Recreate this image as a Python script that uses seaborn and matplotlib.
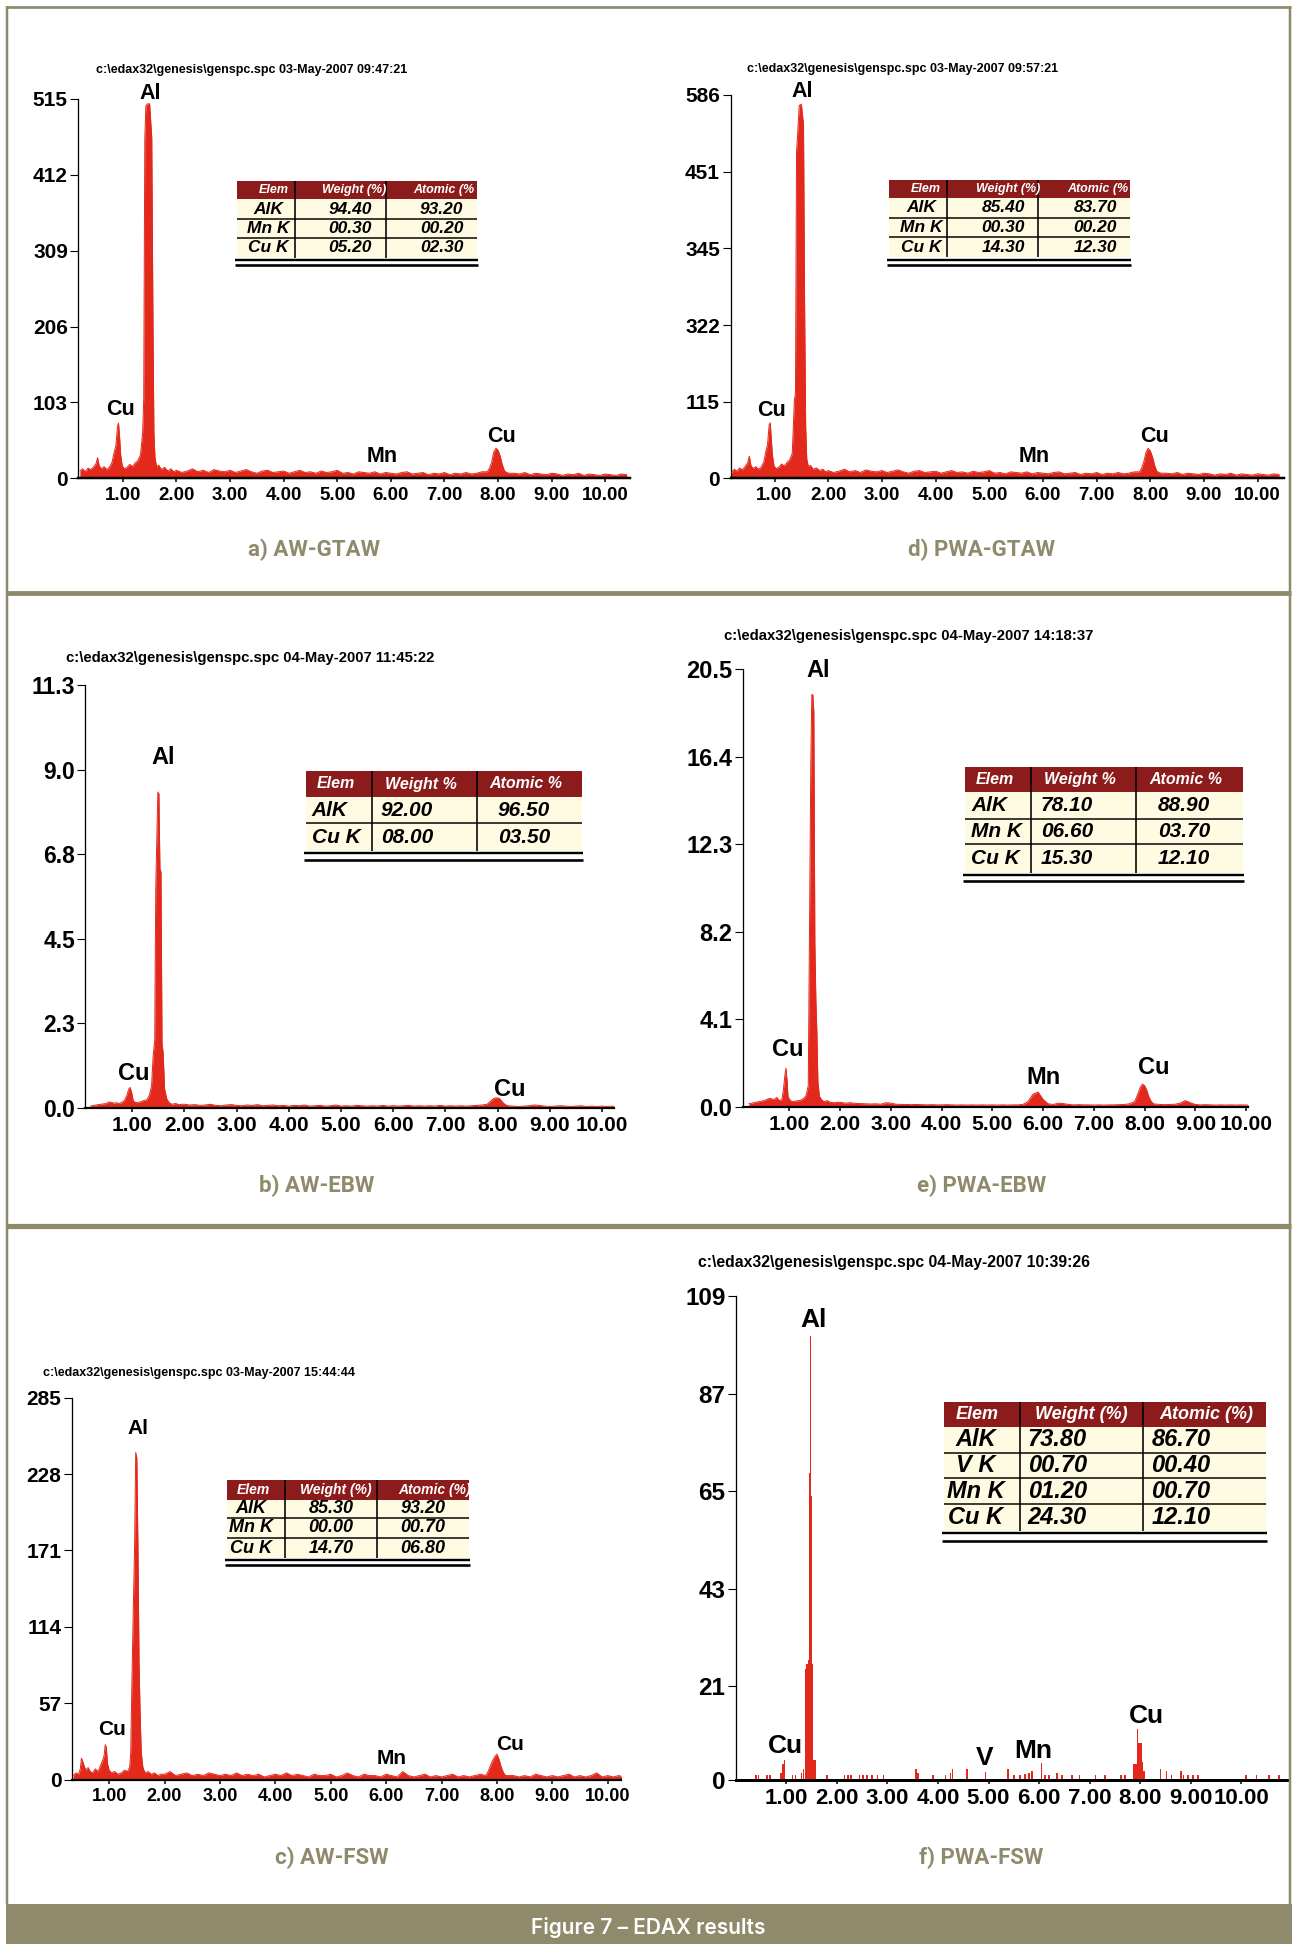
import matplotlib
matplotlib.use("Agg")
import matplotlib.pyplot as plt
import seaborn as sns
from matplotlib.patches import Rectangle
from matplotlib.lines import Line2D

# ---------------------------------------------------------------- data
X_TICKS = [1, 2, 3, 4, 5, 6, 7, 8, 9, 10]
X_TICK_LABELS = ["1.00", "2.00", "3.00", "4.00", "5.00", "6.00", "7.00", "8.00", "9.00", "10.00"]

# shared energy channels (keV) of the background / Cu K regions
BG_E1 = [2.0, 2.1, 2.2, 2.3, 2.4, 2.5, 2.6, 2.7, 2.8, 2.9, 3.0, 3.1, 3.2, 3.3, 3.4, 3.5, 3.6, 3.7, 3.8, 3.9,
         4.0, 4.1, 4.2, 4.3, 4.4, 4.5, 4.6, 4.7, 4.8, 4.9, 5.0, 5.1, 5.2, 5.3, 5.4, 5.5, 5.6, 5.7, 5.8, 5.9,
         6.0, 6.1, 6.2, 6.3, 6.4, 6.5, 6.6, 6.7, 6.8, 6.9, 7.0, 7.1, 7.2, 7.3, 7.4, 7.5, 7.6, 7.7]
CUK_E = [7.80, 7.84, 7.88, 7.92, 7.96, 8.00, 8.04, 8.08, 8.12, 8.16, 8.20]
BG_E2 = [8.3, 8.4, 8.5, 8.6, 8.7, 8.8, 8.9, 9.0, 9.1, 9.2, 9.3, 9.4, 9.5, 9.6, 9.7, 9.8, 9.9, 10.0, 10.1,
         10.2, 10.3, 10.4]

# ---- a) AW-GTAW
GTAW_LOW_E = [0.20, 0.25, 0.30, 0.35, 0.40, 0.45, 0.50, 0.53, 0.56, 0.60, 0.65, 0.70, 0.75, 0.80, 0.84,
              0.87, 0.90, 0.92, 0.94, 0.96, 0.99, 1.03, 1.08, 1.13, 1.18, 1.23, 1.28, 1.33, 1.37, 1.39,
              1.41, 1.43, 1.46, 1.50, 1.54, 1.56, 1.58, 1.60, 1.63, 1.67, 1.72, 1.78, 1.84, 1.90, 1.95]
A_LOW_C = [10, 13, 9, 14, 12, 15, 20, 28, 17, 13, 16, 12, 15, 22, 36, 44, 70, 75, 56, 32, 17, 13, 15, 19,
           16, 21, 24, 32, 62, 108, 460, 505, 508, 508, 462, 236, 62, 28, 16, 18, 12, 15, 10, 13, 9]
A_BG1_C = [11, 8, 10, 13, 9, 11, 8, 12, 10, 9, 11, 8, 10, 12, 9, 7, 10, 11, 8, 9, 10, 7, 9, 11, 8, 9, 7,
           10, 8, 9, 11, 7, 8, 6, 9, 8, 7, 9, 6, 8, 7, 6, 8, 9, 6, 7, 8, 5, 7, 6, 8, 5, 7, 6, 8, 6, 7, 9]
A_CUK_C = [9, 14, 22, 36, 41, 38, 30, 18, 10, 8, 7]
A_BG2_C = [7, 6, 8, 5, 7, 6, 5, 7, 6, 4, 6, 5, 7, 4, 6, 5, 4, 6, 5, 4, 6, 5]
A_YTICK_LABELS = ["0", "103", "206", "309", "412", "515"]
A_HEADER = r"c:\edax32\genesis\genspc.spc 03-May-2007 09:47:21"
A_TABLE_COLS = ["Elem", "Weight (%)", "Atomic (%"]
A_TABLE_ROWS = [["AlK", "94.40", "93.20"], ["Mn K", "00.30", "00.20"], ["Cu K", "05.20", "02.30"]]

# ---- d) PWA-GTAW
D_LOW_C = [9, 14, 11, 16, 13, 18, 24, 34, 20, 15, 18, 14, 17, 25, 42, 52, 82, 85, 60, 36, 19, 15, 17, 22,
           19, 24, 28, 38, 120, 130, 500, 525, 570, 572, 540, 266, 80, 30, 18, 20, 14, 16, 12, 14, 10]
D_BG1_C = [12, 9, 11, 14, 10, 12, 9, 13, 11, 10, 12, 9, 11, 13, 10, 8, 11, 12, 9, 10, 11, 8, 10, 12, 9,
           10, 8, 11, 9, 10, 12, 8, 9, 7, 10, 9, 8, 10, 7, 9, 8, 7, 9, 10, 7, 8, 9, 6, 8, 7, 9, 6, 8, 7, 9,
           7, 8, 10]
D_CUK_C = [10, 16, 26, 40, 46, 42, 33, 20, 11, 9, 8]
D_BG2_C = [8, 7, 9, 6, 8, 7, 6, 8, 7, 5, 7, 6, 8, 5, 7, 6, 5, 7, 6, 5, 7, 6]
D_YTICK_LABELS = ["0", "115", "322", "345", "451", "586"]
D_HEADER = r"c:\edax32\genesis\genspc.spc 03-May-2007 09:57:21"
D_TABLE_COLS = ["Elem", "Weight (%)", "Atomic (%"]
D_TABLE_ROWS = [["AlK", "85.40", "83.70"], ["Mn K", "00.30", "00.20"], ["Cu K", "14.30", "12.30"]]

# ---- b) AW-EBW
B_LOW_E = [0.20, 0.30, 0.40, 0.50, 0.55, 0.60, 0.65, 0.70, 0.75, 0.80, 0.85, 0.90, 0.93, 0.96, 0.99,
           1.02, 1.08, 1.15, 1.22, 1.28, 1.33, 1.37, 1.40, 1.43, 1.45, 1.47, 1.49, 1.51, 1.53, 1.55,
           1.57, 1.59, 1.62, 1.66, 1.70, 1.76, 1.83, 1.90, 1.96]
B_LOW_C = [0.05, 0.08, 0.10, 0.12, 0.16, 0.15, 0.13, 0.14, 0.12, 0.15, 0.20, 0.35, 0.50, 0.55, 0.40,
           0.18, 0.14, 0.16, 0.20, 0.22, 0.35, 0.60, 1.40, 1.80, 5.90, 7.20, 8.44, 8.40, 6.40, 6.30,
           1.70, 1.50, 0.50, 0.25, 0.15, 0.10, 0.12, 0.09, 0.10]
B_BG1_C = [0.10, 0.08, 0.09, 0.07, 0.08, 0.10, 0.07, 0.06, 0.08, 0.09, 0.07, 0.06, 0.08, 0.07, 0.09,
           0.06, 0.07, 0.08, 0.06, 0.07, 0.05, 0.07, 0.06, 0.08, 0.05, 0.06, 0.07, 0.05, 0.06, 0.08,
           0.05, 0.06, 0.05, 0.07, 0.06, 0.05, 0.06, 0.05, 0.07, 0.05, 0.06, 0.05, 0.06, 0.07, 0.05,
           0.06, 0.05, 0.06, 0.05, 0.07, 0.05, 0.06, 0.05, 0.06, 0.05, 0.06, 0.07, 0.08]
B_CUK_C = [0.10, 0.15, 0.20, 0.25, 0.27, 0.27, 0.25, 0.18, 0.12, 0.08, 0.06]
B_BG2_C = [0.05, 0.04, 0.05, 0.06, 0.08, 0.07, 0.05, 0.04, 0.05, 0.06, 0.05, 0.04, 0.05, 0.06, 0.04,
           0.05, 0.04, 0.05, 0.04, 0.05, 0.04, 0.05]
B_YTICK_LABELS = ["0.0", "2.3", "4.5", "6.8", "9.0", "11.3"]
B_HEADER = r"c:\edax32\genesis\genspc.spc 04-May-2007 11:45:22"
B_TABLE_COLS = ["Elem", "Weight %", "Atomic %"]
B_TABLE_ROWS = [["AlK", "92.00", "96.50"], ["Cu K", "08.00", "03.50"]]

# ---- e) PWA-EBW
E_LOW_E = [0.20, 0.30, 0.40, 0.50, 0.60, 0.65, 0.70, 0.75, 0.80, 0.85, 0.88, 0.91, 0.93, 0.95, 0.97,
           1.00, 1.05, 1.12, 1.20, 1.28, 1.33, 1.37, 1.40, 1.42, 1.44, 1.46, 1.48, 1.50, 1.52, 1.54,
           1.56, 1.59, 1.63, 1.68, 1.74, 1.80, 1.88, 1.95]
E_LOW_C = [0.15, 0.20, 0.25, 0.30, 0.40, 0.38, 0.35, 0.45, 0.30, 0.35, 0.80, 1.50, 1.82, 1.30, 0.50,
           0.35, 0.25, 0.28, 0.30, 0.40, 0.55, 1.00, 9.90, 16.0, 19.3, 19.3, 18.5, 7.70, 5.00, 3.50,
           1.20, 0.50, 0.35, 0.25, 0.30, 0.22, 0.20, 0.22]
E_BG1_C = [0.22, 0.18, 0.20, 0.17, 0.16, 0.15, 0.14, 0.15, 0.13, 0.20, 0.18, 0.13, 0.12, 0.12, 0.11,
           0.12, 0.11, 0.10, 0.11, 0.10, 0.10, 0.11, 0.10, 0.09, 0.10, 0.09, 0.10, 0.09, 0.10, 0.09,
           0.10, 0.09, 0.10, 0.09, 0.10, 0.10, 0.12, 0.25, 0.60, 0.70, 0.35, 0.15, 0.12, 0.18, 0.16,
           0.12, 0.10, 0.11, 0.10, 0.10, 0.09, 0.10, 0.09, 0.10, 0.10, 0.11, 0.12, 0.15]
E_CUK_C = [0.25, 0.45, 0.70, 0.95, 1.07, 1.00, 0.80, 0.50, 0.30, 0.18, 0.14]
E_BG2_C = [0.12, 0.11, 0.12, 0.13, 0.18, 0.30, 0.20, 0.12, 0.10, 0.11, 0.10, 0.09, 0.10, 0.09, 0.10,
           0.09, 0.10, 0.09, 0.10, 0.09, 0.08, 0.08]
E_YTICK_LABELS = ["0.0", "4.1", "8.2", "12.3", "16.4", "20.5"]
E_HEADER = r"c:\edax32\genesis\genspc.spc 04-May-2007 14:18:37"
E_TABLE_COLS = ["Elem", "Weight %", "Atomic %"]
E_TABLE_ROWS = [["AlK", "78.10", "88.90"], ["Mn K", "06.60", "03.70"], ["Cu K", "15.30", "12.10"]]

# ---- c) AW-FSW
C_LOW_E = [0.35, 0.40, 0.45, 0.48, 0.50, 0.52, 0.55, 0.58, 0.62, 0.66, 0.70, 0.75, 0.80, 0.84, 0.88,
           0.91, 0.93, 0.95, 0.97, 1.00, 1.04, 1.10, 1.16, 1.22, 1.28, 1.33, 1.37, 1.39, 1.41, 1.43,
           1.46, 1.48, 1.50, 1.52, 1.54, 1.56, 1.58, 1.61, 1.65, 1.70, 1.76, 1.82, 1.88, 1.94]
C_LOW_C = [3, 5, 4, 8, 16, 14, 10, 7, 9, 6, 5, 8, 6, 10, 14, 18, 26, 24, 12, 7, 5, 6, 4, 5, 7, 6, 9, 20,
           70, 114, 175, 244, 240, 174, 87, 48, 20, 9, 5, 6, 4, 5, 3, 4]
C_BG1_C = [4, 6, 3, 4, 5, 3, 4, 3, 5, 4, 3, 4, 3, 5, 3, 4, 3, 4, 2, 3, 4, 3, 5, 3, 4, 3, 2, 4, 3, 3, 4,
           2, 3, 5, 3, 2, 4, 3, 3, 2, 4, 3, 2, 6, 3, 2, 3, 4, 2, 3, 2, 3, 4, 2, 3, 2, 3, 4]
C_CUK_C = [3, 6, 10, 14, 17, 19, 15, 9, 5, 3, 3]
C_BG2_C = [3, 2, 3, 2, 4, 3, 2, 3, 2, 3, 4, 2, 3, 2, 3, 5, 2, 3, 2, 3, 2, 2]
C_YTICK_LABELS = ["0", "57", "114", "171", "228", "285"]
C_HEADER = r"c:\edax32\genesis\genspc.spc 03-May-2007 15:44:44"
C_TABLE_COLS = ["Elem", "Weight (%)", "Atomic (%)"]
C_TABLE_ROWS = [["AlK", "85.30", "93.20"], ["Mn K", "00.00", "00.70"], ["Cu K", "14.70", "06.80"]]

# ---- f) PWA-FSW (sparse channel counts)
F_E = [0.40, 0.45, 0.62, 0.68, 0.90, 0.93, 0.96, 1.12, 1.18, 1.30, 1.34, 1.38, 1.41, 1.44, 1.46, 1.48,
       1.50, 1.52, 1.55, 1.58, 1.80, 2.15, 2.22, 2.28, 2.45, 2.52, 2.60, 2.70, 2.80, 2.92, 3.57, 3.61,
       3.90, 4.15, 4.25, 4.29, 4.58, 4.94, 5.38, 5.50, 5.62, 5.72, 5.80, 5.86, 6.05, 6.12, 6.20, 6.36,
       6.45, 6.65, 6.80, 7.12, 7.30, 7.62, 7.70, 7.88, 7.92, 7.95, 7.98, 8.02, 8.05, 8.08, 8.40, 8.52,
       8.62, 8.81, 8.86, 8.95, 9.05, 9.15, 10.10, 10.30, 10.55, 10.75]
F_C = [1, 1, 1, 1, 1.5, 3.5, 4.5, 1, 1, 1.5, 2.5, 25, 26, 27, 69, 100, 64, 26, 4.5, 4.5, 1, 1, 1, 1, 1,
       1, 1, 1, 1, 1, 2.3, 1.5, 1, 1, 1.5, 2.5, 2.3, 1.7, 2.5, 1, 1, 1.2, 1.5, 2, 3.8, 1, 1, 1.5, 1, 1,
       1, 1, 1, 1, 1, 3.5, 3.5, 11.3, 8.2, 8.2, 4, 2, 2.5, 2, 1, 2, 1, 1, 1, 1, 1, 1, 1, 1]
F_YTICKS = [0, 21, 43, 65, 87, 109]
F_YTICK_LABELS = ["0", "21", "43", "65", "87", "109"]
F_HEADER = r"c:\edax32\genesis\genspc.spc 04-May-2007 10:39:26"
F_TABLE_COLS = ["Elem", "Weight (%)", "Atomic (%)"]
F_TABLE_ROWS = [["AlK", "73.80", "86.70"], ["V K", "00.70", "00.40"], ["Mn K", "01.20", "00.70"],
                ["Cu K", "24.30", "12.10"]]

CAPTIONS = ["a) AW-GTAW", "d) PWA-GTAW", "b) AW-EBW", "e) PWA-EBW", "c) AW-FSW", "f) PWA-FSW"]
FIG_TITLE = "Figure 7 \u2013 EDAX results"

# ---------------------------------------------------------------- styling
W, H, DPI = 1292, 1944, 100
RED = "#e3281c"
OLIVE = "#8e8a6b"
HDR_RED = "#8c1c1c"
CELL = "#fffbe3"

sns.set_theme(style="white")
plt.rcParams["font.family"] = ["Liberation Sans", "DejaVu Sans"]

fig = plt.figure(figsize=(W / DPI, H / DPI), dpi=DPI)
fig.patch.set_facecolor("white")


def px_text(x, y, s, size, color="black", weight="bold", style="normal", ha="center", va="center",
            family=None):
    kw = {}
    if family is not None:
        kw["family"] = family
    fig.text(x / W, 1 - y / H, s, fontsize=size, color=color, fontweight=weight, fontstyle=style,
             ha=ha, va=va, **kw)


def px_line(x0, y0, x1, y1, lw_px, color):
    fig.add_artist(Line2D([x0 / W, x1 / W], [1 - y0 / H, 1 - y1 / H], transform=fig.transFigure,
                          color=color, lw=lw_px * 0.72, solid_capstyle="butt"))


def px_rect(x0, y0, x1, y1, color):
    fig.add_artist(Rectangle((x0 / W, 1 - y1 / H), (x1 - x0) / W, (y1 - y0) / H,
                             transform=fig.transFigure, facecolor=color, edgecolor="none", lw=0))


def ticks_even(ymax):
    return [ymax * i / 5 for i in range(6)]


def join(*parts):
    out = []
    for p in parts:
        out += list(p)
    return out


PANELS = [
    dict(box=(78.3, 630, 98.7, 478.4), xlim=(0.17, 10.46), ymax=515, yticks=ticks_even(515),
         ylabels=A_YTICK_LABELS, E=join(GTAW_LOW_E, BG_E1, CUK_E, BG_E2),
         C=join(A_LOW_C, A_BG1_C, A_CUK_C, A_BG2_C), ysize=15, xsize=13.5, xlw=2.5,
         header=A_HEADER, hpos=(95.6, 70), hsize=9,
         peaks=[("Al", 150.4, 93.8), ("Cu", 120.3, 409.5), ("Mn", 382.4, 456), ("Cu", 501.9, 437)],
         psize=15.5, caption=(CAPTIONS[0], 314, 550),
         table=dict(x=(237, 477), cols=(294.6, 386), ys=[181, 199, 219, 238, 258], dbl=(260, 264.5),
                    hdr=A_TABLE_COLS, rows=A_TABLE_ROWS, hsize=9, bsize=12.5, hoff=[8, 14, 12],
                    align=[("center", 2), ("center", 10), ("center", 10)])),
    dict(box=(730.5, 1284, 95, 478.4), xlim=(0.18, 10.49), ymax=586, yticks=ticks_even(586),
         ylabels=D_YTICK_LABELS, E=join(GTAW_LOW_E, BG_E1, CUK_E, BG_E2),
         C=join(D_LOW_C, D_BG1_C, D_CUK_C, D_BG2_C), ysize=15, xsize=13.5, xlw=2.5,
         header=D_HEADER, hpos=(747, 69), hsize=9,
         peaks=[("Al", 802.6, 91.8), ("Cu", 771.7, 410), ("Mn", 1034, 457), ("Cu", 1154.9, 437)],
         psize=15.5, caption=(CAPTIONS[1], 981.8, 550),
         table=dict(x=(889, 1130), cols=(946.8, 1038), ys=[180, 198, 218, 237, 257], dbl=(260, 264.5),
                    hdr=D_TABLE_COLS, rows=D_TABLE_ROWS, hsize=9, bsize=12.5, hoff=[8, 16, 14],
                    align=[("center", 3), ("center", 11), ("center", 11)])),
    dict(box=(85.3, 614, 685, 1108), xlim=(0.1, 10.23), ymax=11.3, yticks=ticks_even(11.3),
         ylabels=B_YTICK_LABELS, E=join(B_LOW_E, BG_E1, CUK_E, BG_E2),
         C=join(B_LOW_C, B_BG1_C, B_CUK_C, B_BG2_C), ysize=16.5, xsize=15, xlw=2.2,
         header=B_HEADER, hpos=(66, 658), hsize=10.7,
         peaks=[("Al", 162.8, 757.9), ("Cu", 134, 1073), ("Cu", 510, 1089)],
         psize=17, caption=(CAPTIONS[2], 316.4, 1185.8),
         table=dict(x=(305.7, 582), cols=(372, 477), ys=[771, 797, 823, 851], dbl=(853, 859.5),
                    hdr=B_TABLE_COLS, rows=B_TABLE_ROWS, hsize=11.5, bsize=15, hoff=[-3, -4, -4],
                    align=[("left", 6), ("left", 9), ("left", 21)])),
    dict(box=(742.8, 1247.6, 669, 1107), xlim=(0.08, 10.03), ymax=20.5, yticks=ticks_even(20.5),
         ylabels=E_YTICK_LABELS, E=join(E_LOW_E, BG_E1, CUK_E, BG_E2),
         C=join(E_LOW_C, E_BG1_C, E_CUK_C, E_BG2_C), ysize=17, xsize=15.2, xlw=2.2,
         header=E_HEADER, hpos=(724, 636), hsize=10.7,
         peaks=[("Al", 818.2, 670.3), ("Cu", 788.2, 1050), ("Mn", 1043.6, 1077.3), ("Cu", 1153.6, 1068)],
         psize=17, caption=(CAPTIONS[3], 981.8, 1185.8),
         table=dict(x=(965, 1243), cols=(1031, 1136), ys=[767, 792, 819, 844, 873], dbl=(875, 881.5),
                    hdr=E_TABLE_COLS, rows=E_TABLE_ROWS, hsize=11.5, bsize=15, hoff=[-3, -4, -4],
                    align=[("left", 6), ("left", 10), ("left", 22)])),
    dict(box=(72, 621, 1397.6, 1779.6), xlim=(0.33, 10.24), ymax=285, yticks=ticks_even(285),
         ylabels=C_YTICK_LABELS, E=join(C_LOW_E, BG_E1, CUK_E, BG_E2),
         C=join(C_LOW_C, C_BG1_C, C_CUK_C, C_BG2_C), ysize=15, xsize=13, xlw=2.2,
         header=C_HEADER, hpos=(43, 1373), hsize=9,
         peaks=[("Al", 138, 1428), ("Cu", 112, 1729.5), ("Mn", 391.4, 1759), ("Cu", 509.7, 1744.6)],
         psize=15, caption=(CAPTIONS[4], 332, 1858),
         table=dict(x=(226.6, 469), cols=(285, 377), ys=[1479.5, 1499.6, 1518, 1538, 1558],
                    dbl=(1559.5, 1565), hdr=C_TABLE_COLS, rows=C_TABLE_ROWS, hsize=10, bsize=13,
                    hoff=[-2, 5, 12], align=[("center", -5), ("center", 0), ("center", 0)])),
    dict(box=(735.8, 1286.7, 1296, 1779.6), xlim=(0.0, 10.9), ymax=109, yticks=F_YTICKS,
         ylabels=F_YTICK_LABELS, E=F_E, C=F_C, bars=True, ysize=17.5, xsize=16, xlw=3,
         header=F_HEADER, hpos=(697.5, 1263), hsize=11.3,
         peaks=[("Al", 814, 1320), ("Cu", 785.3, 1745.5), ("V", 984.7, 1758), ("Mn", 1033.3, 1750.5),
                ("Cu", 1146.6, 1716.3)],
         psize=19, caption=(CAPTIONS[5], 981.4, 1858),
         table=dict(x=(943.5, 1266), cols=(1019.7, 1143.3), ys=[1402, 1426.7, 1453, 1478, 1504, 1530.6],
                    dbl=(1533, 1540.5), hdr=F_TABLE_COLS, rows=F_TABLE_ROWS, hsize=13, bsize=17,
                    hoff=[-4, 0, 2], align=[("center", -6), ("left", 8), ("left", 8)])),
]


def draw_table(t):
    x0, x1 = t["x"]
    c1, c2 = t["cols"]
    ys = t["ys"]
    ya, yb = t["dbl"]
    px_rect(x0, ys[0], x1, ys[1], HDR_RED)
    px_rect(x0, ys[1], x1, ys[-1], CELL)
    for y in ys[2:-1]:
        px_line(x0, y, x1, y, 1.5, "black")
    for c in (c1, c2):
        px_line(c, ys[0], c, ys[-1], 1.6, "black")
    px_line(x0 - 2, ya, x1 + 1, ya, 2.4, "black")
    px_line(x0 - 2, yb, x1 + 1, yb, 2.6, "black")
    bounds = [x0, c1, c2, x1]
    for j, s in enumerate(t["hdr"]):
        cx = (bounds[j] + bounds[j + 1]) / 2 + t["hoff"][j]
        px_text(cx, (ys[0] + ys[1]) / 2, s, t["hsize"], color="white", style="italic")
    for i, row in enumerate(t["rows"]):
        yc = (ys[i + 1] + ys[i + 2]) / 2
        for j, s in enumerate(row):
            ha, off = t["align"][j]
            if ha == "center":
                xx = (bounds[j] + bounds[j + 1]) / 2 + off
            else:
                xx = bounds[j] + off
            px_text(xx, yc, s, t["bsize"], style="italic", ha=ha)


for p in PANELS:
    L, R, T, B = p["box"]
    ax = fig.add_axes([L / W, 1 - B / H, (R - L) / W, (B - T) / H])
    ax.set_facecolor("none")
    if p.get("bars"):
        ax.bar(p["E"], p["C"], width=0.032, color=RED, lw=0, zorder=2)
    else:
        ax.fill_between(p["E"], p["C"], 0, color=RED, lw=0, zorder=2)
        sns.lineplot(x=p["E"], y=p["C"], ax=ax, color=RED, lw=0.7, estimator=None, sort=False,
                     zorder=3)
    ax.set_xlim(*p["xlim"])
    ax.set_ylim(0, p["ymax"])
    ax.set_xlabel("")
    ax.set_ylabel("")
    ax.grid(False)
    for s in ("top", "right"):
        ax.spines[s].set_visible(False)
    ax.spines["left"].set_color("black")
    ax.spines["left"].set_linewidth(1.3 * 0.72)
    ax.spines["bottom"].set_color("black")
    ax.spines["bottom"].set_linewidth(p["xlw"] * 0.72)
    ax.set_xticks(X_TICKS)
    ax.set_xticklabels(X_TICK_LABELS, fontsize=p["xsize"], fontweight="bold")
    ax.set_yticks(p["yticks"])
    ax.set_yticklabels(p["ylabels"], fontsize=p["ysize"], fontweight="bold")
    ax.tick_params(axis="x", bottom=True, direction="out", length=3, width=1.1, pad=3,
                   colors="black", labelcolor="black")
    ax.tick_params(axis="y", left=True, direction="out", length=5.5, width=0.8, pad=2,
                   colors="black", labelcolor="black")

    px_text(p["hpos"][0], p["hpos"][1], p["header"], p["hsize"], ha="left")
    for name, x, y in p["peaks"]:
        px_text(x, y, name, p["psize"])
    cap, cx, cy = p["caption"]
    px_text(cx, cy, cap, 16, color=OLIVE, family=["Roboto", "DejaVu Sans"])
    draw_table(p["table"])

# ---------------------------------------------------------------- frame & banner
px_line(7, 6, 7, 1904, 2.5, OLIVE)
px_line(1290, 6, 1290, 1904, 2.5, OLIVE)
px_line(6, 7.3, 1291, 7.3, 2.7, OLIVE)
px_line(6, 593, 1291, 593, 4.8, OLIVE)
px_line(6, 1226, 1291, 1226, 5.2, OLIVE)
px_rect(6, 1904, 1292, 1944, OLIVE)
fig.text(648.5 / W, 1 - 1927 / H, FIG_TITLE, fontsize=15, color="white", fontweight="semibold",
         ha="center", va="center", family=["Inter", "Roboto", "DejaVu Sans"])

fig.savefig("out.png", dpi=DPI, facecolor="white")
